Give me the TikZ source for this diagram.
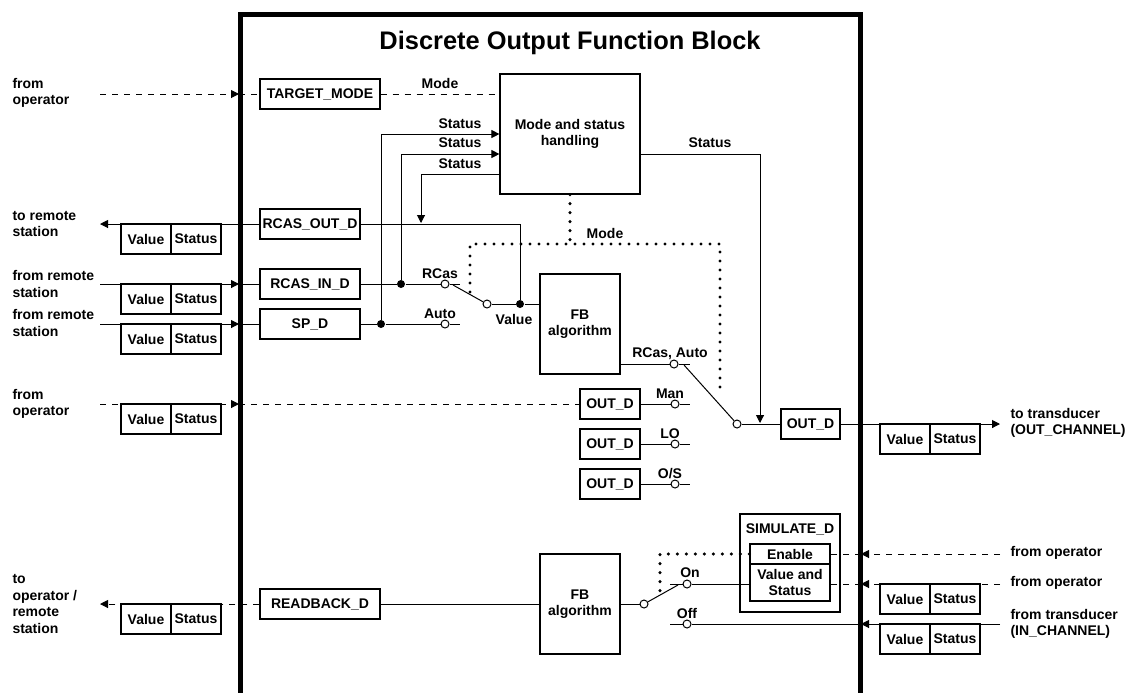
\documentclass[tikz,border=0pt]{standalone}
\usepackage{fontspec}
\setmainfont{Liberation Sans}
\usetikzlibrary{arrows.meta,calc}

\begin{document}
\begin{tikzpicture}[x=0.5pt, y=-0.5pt, line width=0.5pt,
  font=\fontsize{7}{8.25}\selectfont\bfseries,
  >={Triangle[length=4pt,width=4pt]},
  param/.style={draw, line width=0.6pt, minimum height=15pt, inner sep=0pt},
  algo/.style={draw, line width=0.6pt, minimum width=40pt, minimum height=50pt, align=center, inner sep=0pt},
  cell/.style={draw, line width=0.6pt, minimum width=25pt, minimum height=15pt, inner sep=0pt},
  lbl/.style={inner sep=0pt, align=left, anchor=west},
  tag/.style={inner sep=0pt},
  contact/.style={draw, circle, fill=white, inner sep=0pt, minimum size=4pt},
  junct/.style={fill, circle, inner sep=0pt, minimum size=4pt},
  sigline/.style={dash pattern=on 3pt off 3pt},
  modeline/.style={line width=1.7pt, line cap=round, dash pattern=on 0pt off 4.5pt}]
\useasboundingbox (0,0) rectangle (1127,692);

% block frame
\draw[line width=2.5pt] (240,14) rectangle (860,695);
\node (title) at (570,43) [tag, font=\fontsize{12.7}{15}\selectfont\bfseries] {Discrete Output Function Block};

% value/status records
\foreach \n/\x/\y in {a/146/239, b/146/299, c/146/339, d/146/419, e/146/619, f/905/439, g/905/599, h/905/639} {
  \node (val\n) at (\x,\y) [cell] {Value};
  \node (sta\n) at (\x+50,\y) [cell] {Status};
}

% outside labels
\node (lopA) at (12,93) [lbl] {from\\operator};
\node (lrsA) at (12,224) [lbl] {to remote\\station};
\node (lrsB) at (12,284) [lbl] {from remote\\station};
\node (lrsC) at (12,323) [lbl] {from remote\\station};
\node (lopB) at (12,404) [lbl] {from\\operator};
\node (lrb) at (12,604) [lbl] {to\\operator /\\remote\\station};
\node (ltdA) at (1010,423) [lbl] {to transducer\\(OUT\_CHANNEL)};
\node (lfoA) at (1010,553) [lbl] {from operator};
\node (lfoB) at (1010,583) [lbl] {from operator};
\node (ltiA) at (1010,624) [lbl] {from transducer\\(IN\_CHANNEL)};

% mode and status handling
\node (tm) at (320,94) [param, minimum width=60pt] {TARGET\_MODE};
\node (msh) at (570,134) [draw, line width=0.6pt, minimum width=70pt, minimum height=60pt, align=center, inner sep=0pt] {Mode and status\\handling};
\coordinate (opA) at (100,94);
\coordinate (opAf) at (239,94);
\draw[sigline,->] (opA) -- (opAf);
\draw[sigline] (opAf) -- (tm);
\draw[sigline] (tm.east) -- (tm.east -| msh.west);
\node at (440,83) [tag] {Mode};

% remote cascade and setpoint
\node (rout) at (310,224) [param, minimum width=50pt] {RCAS\_OUT\_D};
\node (rin) at (310,284) [param, minimum width=50pt] {RCAS\_IN\_D};
\node (sp) at (310,324) [param, minimum width=50pt] {SP\_D};
\node (jrin) at (401,284) [junct] {};
\node (jsp) at (381,324) [junct] {};
\node (jval) at (520,304) [junct] {};
\node (crcas) at (445,284) [contact] {};
\node (cauto) at (445,324) [contact] {};
\coordinate (crcasend) at (460,284);
\coordinate (cautoend) at (460,324);
\coordinate (rsA) at (100,224);
\coordinate (rsB) at (100,284);
\coordinate (rsBf) at (239,284);
\coordinate (rsC) at (100,324);
\coordinate (rsCf) at (239,324);
\draw[->] (rout) -- (rsA);
\draw[->] (rsB) -- (rsBf);
\draw (rsBf) -- (rin);
\draw[->] (rsC) -- (rsCf);
\draw (rsCf) -- (sp);
\draw (rin) -- (jrin) -- (crcas) -- (crcasend);
\draw (sp) -- (jsp) -- (cauto) -- (cautoend);
\draw (rout) -| (jval);
\node at (440,274) [tag] {RCas};
\node at (440,314) [tag] {Auto};

% status feedback
\coordinate (st3) at (421,223);
\draw[->] (jsp) |- (msh.west);
\draw[->] (jrin) |- ($(msh.west)+(0,20)$);
\draw[->] ($(msh.west)+(0,40)$) -| (st3);
\node at (460,124) [tag] {Status};
\node at (460,143) [tag] {Status};
\node at (460,164) [tag] {Status};

% first algorithm and its input switch
\node (fb1) at (580,324) [algo] {FB\\algorithm};
\node (pvA) at (487,304) [contact] {};
\coordinate (levA) at (453,285);
\draw (levA) -- (pvA);
\draw (pvA) -- (jval) -- (jval -| fb1.west);
\node at (514,319) [tag] {Value};

% mode selection
\coordinate (mdA) at (470,244);
\coordinate (mdB) at (720,244);
\coordinate (mdC) at (470,292);
\coordinate (mdD) at (720,391);
\draw[modeline] (msh.south) -- (msh.south |- mdA);
\draw[modeline] (mdC) -- (mdA) -- (mdB) -- (mdD);
\node at (605,233) [tag] {Mode};

% output switch
\node (cra) at (674,364) [contact] {};
\coordinate (craend) at (690,364);
\draw (fb1.east |- cra) -- (cra) -- (craend);
\node at (670,354) [tag] {RCas, Auto};
\node (om) at (610,404) [param, minimum width=30pt] {OUT\_D};
\node (ol) at (610,444) [param, minimum width=30pt] {OUT\_D};
\node (os) at (610,484) [param, minimum width=30pt] {OUT\_D};
\node (cman) at (675,404) [contact] {};
\node (clo) at (675,444) [contact] {};
\node (cos) at (675,484) [contact] {};
\coordinate (cmanend) at (690,404);
\coordinate (cloend) at (690,444);
\coordinate (cosend) at (690,484);
\draw (om) -- (cman) -- (cmanend);
\draw (ol) -- (clo) -- (cloend);
\draw (os) -- (cos) -- (cosend);
\node at (670,394) [tag] {Man};
\node at (670,434) [tag] {LO};
\node at (670,474) [tag] {O/S};
\coordinate (opB) at (100,404);
\coordinate (opBf) at (239,404);
\draw[sigline,->] (opB) -- (opBf);
\draw[sigline] (opBf) -- (om);

\node (pvB) at (737,424) [contact] {};
\coordinate (levB) at (684,365);
\draw (levB) -- (pvB);
\node (outd) at (810.5,424) [param, minimum width=29.5pt] {OUT\_D};
\draw (pvB) -- (outd);
\coordinate (stB) at (760,423);
\draw[->] ($(msh.east)+(0,20)$) -| (stB);
\node at (710,143) [tag] {Status};
\coordinate (tdA) at (1000,424);
\draw[->] (outd) -- (tdA);

% readback path
\node (rb) at (320,604) [param, minimum width=60pt] {READBACK\_D};
\node (fb2) at (580,604) [algo] {FB\\algorithm};
\coordinate (rbA) at (100,604);
\draw[sigline,->] (rb) -- (rbA);
\draw (rb) -- (fb2);
\node (pvC) at (644,604) [contact] {};
\coordinate (levC) at (678,585);
\draw (fb2) -- (pvC);
\draw (pvC) -- (levC);

% simulation
\node (simo) at (790,563) [draw, line width=0.6pt, minimum width=50pt, minimum height=49pt, inner sep=0pt] {};
\node at (790,529) [tag] {SIMULATE\_D};
\node (sime) at (790,554) [draw, line width=0.6pt, minimum width=40pt, minimum height=10pt, inner sep=0pt] {Enable};
\node (simv) at (790,582.5) [draw, line width=0.6pt, minimum width=40pt, minimum height=18.5pt, align=center, inner sep=0pt] {Value and\\Status};
\node (con) at (687,584) [contact] {};
\node (coff) at (687,624) [contact] {};
\coordinate (onA) at (670,584);
\coordinate (offA) at (670,624);
\draw (onA) -- (con) -- (con -| simv.west);
\node at (690,573) [tag] {On};
\node at (687,613) [tag] {Off};
\coordinate (enA) at (660,554);
\coordinate (enB) at (660,592);
\draw[modeline] (sime.west) -- (enA) -- (enB);

\coordinate (foA) at (1000,554);
\coordinate (foAf) at (861,554);
\coordinate (foB) at (1000,584);
\coordinate (foBf) at (861,584);
\coordinate (tiA) at (1000,624);
\coordinate (tiAf) at (861,624);
\draw[sigline,->] (foA) -- (foAf);
\draw[sigline] (foAf) -- (sime.east);
\draw[sigline,->] (foB) -- (foBf);
\draw[sigline] (foBf) -- (foBf -| simv.east);
\draw[->] (tiA) -- (tiAf);
\draw (tiAf) -- (coff) -- (offA);
\end{tikzpicture}
\end{document}
